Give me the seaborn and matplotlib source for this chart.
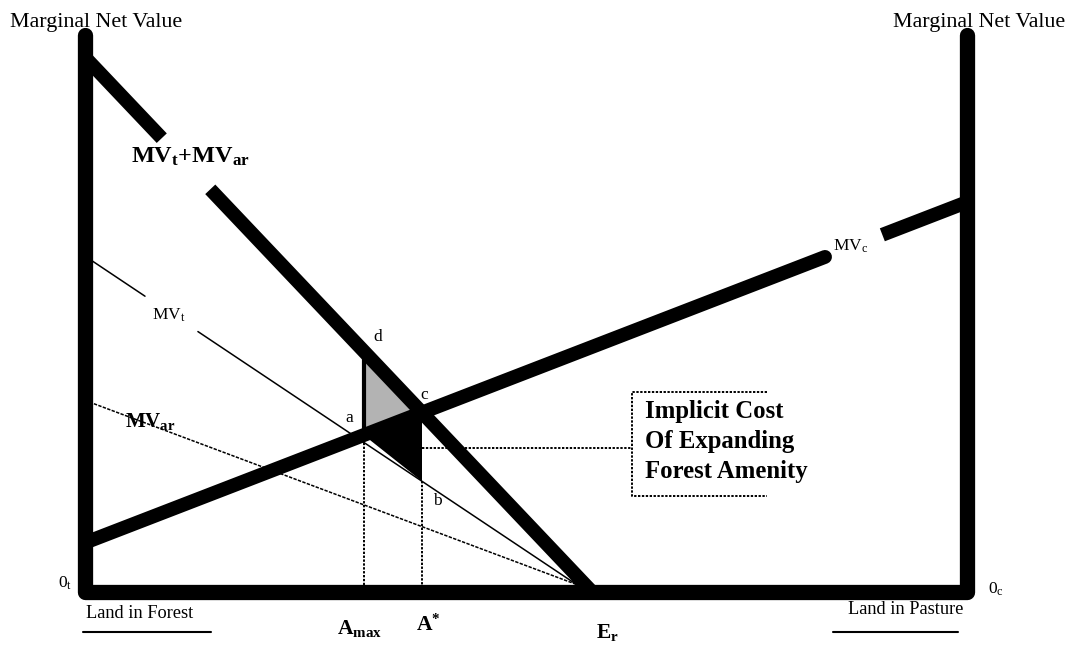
import numpy as np
import pandas as pd
import matplotlib.pyplot as plt
import seaborn as sns

# chart units: land share 0-100 between the two origins, value 0-100 up the axes
frame_x = [0, 0, 100, 100]
frame_y = [100, 0, 0, 100]

# MVt + MVar (thick, falling), with a gap for its label
sum_x = [0.0, 57.5]
sum_y = [96.0, 0.0]
sum_gap = [8.7, 14.2]

# MVt (thin, falling), gap for label
mvt_x = [0.0, 57.0]
mvt_y = [60.3, 0.0]
mvt_gap = [6.8, 12.8]

# MVar (dotted, falling)
mvar_x = [0.0, 58.0]
mvar_y = [34.4, 0.0]

# MVc (thick, rising), gap for label
mvc_x = [0.0, 100.0]
mvc_y = [8.85, 70.0]
mvc_gap = [83.9, 90.4]

a_max = 31.6

box_lines = ["Implicit Cost", "Of Expanding", "Forest Amenity"]

sns.set_theme(style="white")
plt.rcParams['font.family'] = ['Liberation Serif', 'DejaVu Serif']
plt.rcParams['text.color'] = 'black'
plt.rcParams['mathtext.fontset'] = 'custom'
plt.rcParams['mathtext.rm'] = 'Liberation Serif'
plt.rcParams['mathtext.bf'] = 'Liberation Serif:bold'
plt.rcParams['mathtext.it'] = 'Liberation Serif:italic'

fig = plt.figure(figsize=(10.74, 6.46), dpi=100)
ax = fig.add_axes([0, 0, 1, 1])
ax.set_xlim(-9.64, 112.13)
ax.set_ylim(-9.69, 106.28)
ax.axis('off')


def val(xs, ys, u):
    return float(np.interp(u, xs, ys))


def seg(xs, ys, u0, u1, **kw):
    us = [u0, u1]
    df = pd.DataFrame({"x": us, "y": [val(xs, ys, u) for u in us]})
    sns.lineplot(data=df, x="x", y="y", ax=ax, estimator=None, sort=False,
                 color="black", legend=False, **kw)


# intersection of MVt+MVar with MVc -> A*
s_slope = (sum_y[1] - sum_y[0]) / (sum_x[1] - sum_x[0])
c_slope = (mvc_y[1] - mvc_y[0]) / (mvc_x[1] - mvc_x[0])
a_star = (mvc_y[0] - sum_y[0]) / (s_slope - c_slope)

pt_a = (a_max, val(mvc_x, mvc_y, a_max))
pt_d = (a_max, val(sum_x, sum_y, a_max))
pt_c = (a_star, val(mvc_x, mvc_y, a_star))
pt_b = (a_star, val(mvt_x, mvt_y, a_star))

# shaded triangles
ax.fill([pt_d[0], pt_a[0], pt_c[0]], [pt_d[1], pt_a[1], pt_c[1]],
        color="#b3b3b3", lw=0, zorder=2)
ax.fill([pt_a[0], pt_c[0], pt_b[0]], [pt_a[1], pt_c[1], pt_b[1]],
        color="black", lw=0, zorder=2)

dots = (0, (1.2, 0.8))
# thin curves
seg(mvt_x, mvt_y, mvt_x[0], mvt_gap[0], linewidth=1.1, zorder=3)
seg(mvt_x, mvt_y, mvt_gap[1], mvt_x[1], linewidth=1.1, zorder=3)
seg(mvar_x, mvar_y, mvar_x[0], mvar_x[1], linewidth=1.1,
    linestyle=(0, (2.2, 0.9)), zorder=3)

# guide lines
ax.plot([a_max, a_max], [pt_a[1], 0], color="black", lw=1.4, ls=dots, zorder=3)
ax.plot([a_max, a_max], [pt_d[1], pt_a[1]], color="black", lw=3,
        solid_capstyle="butt", zorder=3)
ax.plot([a_star, a_star], [pt_b[1], 0], color="black", lw=1.4, ls=dots, zorder=3)

# callout box
bx0, bx1, by0, by1, by_mid = 62.0, 77.3, 17.2, 35.9, 25.9
ax.plot([a_star, bx0], [by_mid, by_mid], color="black", lw=1.4, ls=dots, zorder=1)
ax.plot([bx1, bx0, bx0, bx1], [by1, by1, by0, by0], color="black", lw=1.4,
        ls=dots, zorder=1)
for i, line in enumerate(box_lines):
    ax.text(63.5, 31.2 - 5.35 * i, line, fontsize=17.8, fontweight="bold",
            ha="left", va="baseline")

# thick curves
thick = 10.0
seg(sum_x, sum_y, sum_x[0], sum_gap[0], linewidth=thick,
    solid_capstyle="butt", zorder=4)
seg(sum_x, sum_y, sum_gap[1], sum_x[1], linewidth=thick,
    solid_capstyle="butt", zorder=4)
seg(mvc_x, mvc_y, mvc_x[0], mvc_gap[0], linewidth=thick,
    solid_capstyle="round", zorder=4)
seg(mvc_x, mvc_y, mvc_gap[1], mvc_x[1], linewidth=thick,
    solid_capstyle="butt", zorder=4)

# the two origins' axes
ax.plot(frame_x, frame_y, color="black", lw=11, solid_joinstyle="round",
        solid_capstyle="round", zorder=5)

# labels
ax.text(-8.5, 101.4, "Marginal Net Value", fontsize=15.8, ha="left", va="baseline")
ax.text(91.6, 101.4, "Marginal Net Value", fontsize=15.8, ha="left", va="baseline")
ax.text(12.0, 78.1, r"$\mathbf{MV}_\mathbf{t}\mathbf{+MV}_\mathbf{ar}$",
        fontsize=17.5, ha="center", va="center")
ax.text(9.5, 49.7, r"$\mathrm{MV}_\mathrm{t}$", fontsize=12.5, ha="center", va="center")
ax.text(7.4, 30.7, r"$\mathbf{MV}_\mathbf{ar}$", fontsize=15, ha="center",
        va="center", zorder=6)
ax.text(86.8, 62.1, r"$\mathrm{MV}_\mathrm{c}$", fontsize=12.5, ha="center", va="center")
for t, (u, v) in zip(["d", "a", "c", "b"],
                     [(33.2, 45.8), (30.0, 31.2), (38.5, 35.4), (39.9, 16.3)]):
    ax.text(u, v, t, fontsize=12.5, ha="center", va="center")
ax.text(-2.3, 1.6, r"$\mathrm{0}_\mathrm{t}$", fontsize=12.5, ha="center", va="center")
ax.text(103.3, 0.4, r"$\mathrm{0}_\mathrm{c}$", fontsize=12.5, ha="center", va="center")
ax.text(6.2, -3.8, "Land in Forest", fontsize=13.2, ha="center", va="center")
ax.text(93.0, -3.2, "Land in Pasture", fontsize=13.2, ha="center", va="center")
ax.plot([-0.2, 14.3], [-7.2, -7.2], color="black", lw=1.5)
ax.plot([84.8, 99.0], [-7.2, -7.2], color="black", lw=1.5)
ax.text(a_max - 0.5, -6.6, r"$\mathbf{A}_\mathbf{max}$", fontsize=15.5,
        ha="center", va="center")
ax.text(a_star + 0.7, -5.9, r"$\mathbf{A}^\mathbf{*}$", fontsize=15.5,
        ha="center", va="center")
ax.text(59.2, -7.2, r"$\mathbf{E}_\mathbf{r}$", fontsize=15.5, ha="center", va="center")

fig.savefig("out.png", dpi=100)
